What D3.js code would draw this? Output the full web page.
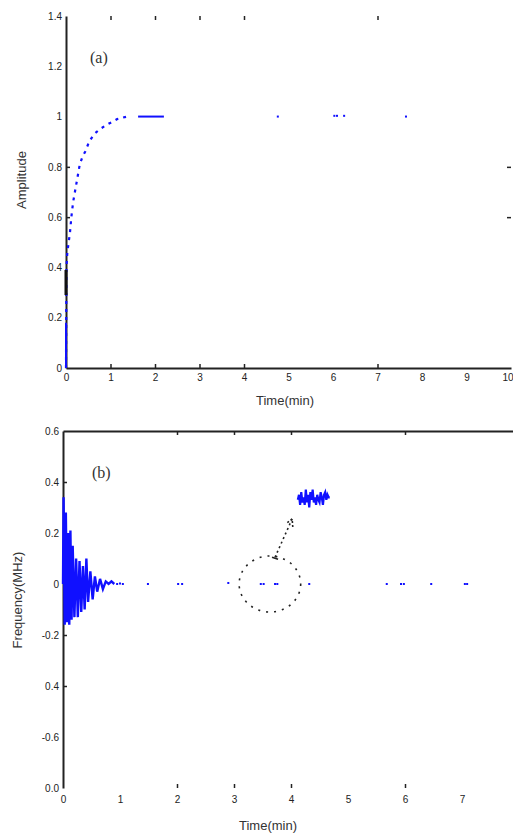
<!DOCTYPE html>
<html>
<head>
<meta charset="utf-8">
<script src="https://cdn.jsdelivr.net/npm/d3@7"></script>
<style>
  body { margin: 0; background: #fff; }
  svg { display: block; }
  .tick text { font-family: "Liberation Sans", Arial, sans-serif; font-size: 10px; fill: #222; }
  .lbl { font-family: "Liberation Sans", Arial, sans-serif; font-size: 13px; fill: #333; }
  .tag { font-family: "Liberation Serif", "DejaVu Serif", serif; font-size: 16px; fill: #333; }
</style>
</head>
<body>
<div id="viz"></div>
<script>
// (a) amplitude vs time
const ampTime  = [0, 0.01, 0.03, 0.06, 0.09, 0.12, 0.16, 0.2, 0.25, 0.31, 0.37, 0.43, 0.52, 0.63, 0.76, 0.85, 0.94, 1.05, 1.15, 1.26, 1.37, 1.45];
const ampValue = [0, 0.40, 0.46, 0.50, 0.54, 0.60, 0.66, 0.70, 0.75, 0.81, 0.84, 0.86, 0.90, 0.93, 0.95, 0.96, 0.97, 0.98, 0.99, 0.995, 1.0, 1.0];
const ampFlatTime  = [1.62, 2.2];
const ampFlatValue = [1.0, 1.0];
const ampDotTime  = [4.76, 6.03, 6.09, 6.25, 7.64];
const ampDotValue = [1.0, 1.003, 1.003, 1.003, 1.0];
const ampXTicks = [0, 1, 2, 3, 4, 5, 6, 7, 8, 9, 10];
const ampXMarks = [1, 2, 3, 4, 7];
const ampYTicks = [0, 0.2, 0.4, 0.6, 0.8, 1, 1.2, 1.4];
const ampYLabels = ["0", "0.2", "0.4", "0.6", "0.8", "1", "1.2", "1.4"];
const ampYMarks = [0.6, 0.8];

// (b) frequency vs time
const freqTime  = [0, 0.01, 0.03, 0.05, 0.07, 0.09, 0.11, 0.13, 0.15, 0.17, 0.2, 0.23, 0.26, 0.29, 0.32, 0.35, 0.38, 0.41, 0.44, 0.48, 0.52, 0.56, 0.6, 0.65, 0.7, 0.75, 0.8, 0.85, 0.9];
const freqValue = [0, 0.34, -0.16, 0.28, -0.15, 0.20, -0.16, 0.21, -0.14, 0.15, -0.13, 0.10, -0.13, 0.09, -0.11, 0.07, -0.10, 0.10, -0.07, 0.05, -0.06, 0.03, -0.03, 0.02, -0.02, 0.01, 0, 0.01, 0];
const freqDotTime  = [0.95, 1.0, 1.05, 1.49, 2.02, 2.09, 2.9, 3.47, 3.52, 3.72, 3.76, 4.32, 5.68, 5.93, 5.98, 6.46, 7.05, 7.09];
const freqDotValue = [0, 0.002, 0, 0, 0, 0, 0.004, 0, 0, 0, 0, 0, 0, 0, 0, 0, 0, 0];
const insetTime  = [4.12, 4.14, 4.16, 4.18, 4.20, 4.22, 4.24, 4.26, 4.28, 4.30, 4.32, 4.34, 4.36, 4.38, 4.40, 4.42, 4.44, 4.46, 4.48, 4.50, 4.52, 4.54, 4.56, 4.58, 4.60, 4.62, 4.64, 4.66, 4.68];
const insetValue = [0.33, 0.35, 0.31, 0.36, 0.32, 0.34, 0.31, 0.37, 0.32, 0.35, 0.30, 0.36, 0.33, 0.37, 0.32, 0.34, 0.31, 0.35, 0.33, 0.32, 0.36, 0.34, 0.31, 0.35, 0.36, 0.33, 0.35, 0.34, 0.34];
const circleCenter = [3.63, 0];
const circleRadius = [0.54, 0.11];
const arrowFrom = [3.72, 0.105];
const arrowTo   = [4.02, 0.255];
const freqXTicks = [0, 1, 2, 3, 4, 5, 6, 7];
const freqXMarks = [2, 3, 4, 6];
const freqYTicks = [-0.8, -0.6, -0.4, -0.2, 0, 0.2, 0.4, 0.6];
const freqYLabels = ["0.0", "-0.6", "0.4", "-0.2", "0", "0.2", "0.4", "0.6"];
const freqYMarks = [-0.4, -0.2, 0.4];

const W = 513, H = 835;
const blue = "#1010ff", ink = "#222";

const svg = d3.select("#viz").append("svg")
    .attr("width", W).attr("height", H);

// ---------- panel (a) ----------
const xA = d3.scaleLinear([0, 10], [66, 511]);
const yA = d3.scaleLinear([0, 1.4], [368, 16]);
const gA = svg.append("g");

// labels only
gA.append("g").attr("transform", `translate(0,${yA(0)})`)
    .call(d3.axisBottom(xA).tickValues(ampXTicks).tickSize(0).tickPadding(6).tickFormat(d3.format("d")))
    .call(g => g.select(".domain").attr("stroke", ink).attr("stroke-width", 2))
    .call(g => g.selectAll(".tick text").filter(d => d === 10).attr("text-anchor", "end").attr("dx", 2));
gA.append("g").attr("transform", `translate(${xA(0)},0)`)
    .call(d3.axisLeft(yA).tickValues(ampYTicks).tickSize(0).tickPadding(4).tickFormat((d, i) => ampYLabels[i]))
    .call(g => g.select(".domain").attr("stroke", ink).attr("stroke-width", 2));

// inward tick marks
const marks = (g, axis, vals) => g.call(axis.tickValues(vals).tickSizeInner(-4).tickSizeOuter(0).tickFormat(""))
    .call(g => g.select(".domain").remove())
    .call(g => g.selectAll("line").attr("stroke", ink).attr("stroke-width", 1.5));
gA.append("g").attr("transform", `translate(0,${yA(0)})`).call(g => marks(g, d3.axisBottom(xA), ampXMarks));
gA.append("g").attr("transform", `translate(0,${yA(1.4)})`).call(g => marks(g, d3.axisTop(xA), ampXMarks));
gA.append("g").attr("transform", `translate(${xA(0)},0)`).call(g => marks(g, d3.axisLeft(yA), ampYMarks));
gA.append("g").attr("transform", `translate(${xA(10)},0)`).call(g => marks(g, d3.axisRight(yA), ampYMarks));

const lineA = d3.line().x(i => xA(i[0])).y(i => yA(i[1]));
gA.append("path")
    .attr("d", lineA(ampTime.map((t, i) => [t, ampValue[i]])))
    .attr("fill", "none").attr("stroke", blue).attr("stroke-width", 2.2)
    .attr("stroke-dasharray", "3,5");
gA.append("path")
    .attr("d", lineA(ampFlatTime.map((t, i) => [t, ampFlatValue[i]])))
    .attr("fill", "none").attr("stroke", blue).attr("stroke-width", 2);
gA.append("path")
    .attr("d", lineA([[0, 0], [0, 0.18]]))
    .attr("stroke", blue).attr("stroke-width", 2);
gA.append("path")
    .attr("d", lineA([[0, 0.29], [0, 0.39]]))
    .attr("stroke", "#111").attr("stroke-width", 3);
gA.selectAll(".adot").data(ampDotTime).join("rect")
    .attr("x", d => xA(d) - 1).attr("y", (d, i) => yA(ampDotValue[i]) - 1)
    .attr("width", 2).attr("height", 2).attr("fill", blue);

gA.append("text").attr("class", "tag").attr("x", 90).attr("y", 63).text("(a)");
gA.append("text").attr("class", "lbl").attr("text-anchor", "middle")
    .attr("x", 285).attr("y", 405).text("Time(min)");
gA.append("text").attr("class", "lbl").attr("text-anchor", "middle")
    .attr("transform", "translate(26,180) rotate(-90)").text("Amplitude");

// ---------- panel (b) ----------
const xB = d3.scaleLinear([0, 8], [63, 519]);
const yB = d3.scaleLinear([-0.8, 0.6], [788, 431]);
const gB = svg.append("g");

gB.append("g").attr("transform", `translate(0,${yB(-0.8)})`)
    .call(d3.axisBottom(xB).tickValues(freqXTicks).tickSize(0).tickPadding(8).tickFormat(d3.format("d")))
    .call(g => g.select(".domain").remove());
gB.append("g").attr("transform", `translate(${xB(0)},0)`)
    .call(d3.axisLeft(yB).tickValues(freqYTicks).tickSize(0).tickPadding(4).tickFormat((d, i) => freqYLabels[i]))
    .call(g => g.select(".domain").attr("stroke", ink).attr("stroke-width", 2));
gB.append("g").attr("transform", `translate(0,${yB(0.6)})`)
    .call(d3.axisTop(xB).tickValues([]).tickSize(0))
    .call(g => g.select(".domain").attr("stroke", ink).attr("stroke-width", 2));

gB.append("g").attr("transform", `translate(0,${yB(-0.8)})`).call(g => marks(g, d3.axisBottom(xB), freqXMarks));
gB.append("g").attr("transform", `translate(0,${yB(0.6)})`).call(g => marks(g, d3.axisTop(xB), freqXMarks));
gB.append("g").attr("transform", `translate(${xB(0)},0)`).call(g => marks(g, d3.axisLeft(yB), freqYMarks));

const lineB = d3.line().x(i => xB(i[0])).y(i => yB(i[1]));
gB.append("path")
    .attr("d", lineB(freqTime.map((t, i) => [t, freqValue[i]])))
    .attr("fill", "none").attr("stroke", blue).attr("stroke-width", 2.4);
gB.append("path")
    .attr("d", lineB(insetTime.map((t, i) => [t, insetValue[i]])))
    .attr("fill", "none").attr("stroke", blue).attr("stroke-width", 2.2);
gB.selectAll(".fdot").data(freqDotTime).join("rect")
    .attr("x", d => xB(d) - 1).attr("y", (d, i) => yB(freqDotValue[i]) - 1)
    .attr("width", 2).attr("height", 2).attr("fill", blue);

// dotted circle and arrow
gB.append("ellipse")
    .attr("cx", xB(circleCenter[0])).attr("cy", yB(circleCenter[1]))
    .attr("rx", xB(circleRadius[0]) - xB(0)).attr("ry", yB(0) - yB(circleRadius[1]))
    .attr("fill", "none").attr("stroke", ink).attr("stroke-width", 1.6)
    .attr("stroke-dasharray", "2,6");
const ax1 = xB(arrowFrom[0]), ay1 = yB(arrowFrom[1]), ax2 = xB(arrowTo[0]), ay2 = yB(arrowTo[1]);
gB.append("line")
    .attr("x1", ax1).attr("y1", ay1).attr("x2", ax2).attr("y2", ay2)
    .attr("stroke", ink).attr("stroke-width", 1.6).attr("stroke-dasharray", "2,3");
const ang = Math.atan2(ay2 - ay1, ax2 - ax1);
const head = [-0.5, 0.5].map(o => [ax2 - 8 * Math.cos(ang + o), ay2 - 8 * Math.sin(ang + o)]);
gB.append("path")
    .attr("d", `M${head[0]}L${ax2},${ay2}L${head[1]}`)
    .attr("fill", "none").attr("stroke", ink).attr("stroke-width", 1.6).attr("stroke-dasharray", "2,2");
gB.append("line")
    .attr("x1", ax1 - 3).attr("y1", ay1).attr("x2", ax1 + 3).attr("y2", ay1 + 2)
    .attr("stroke", ink).attr("stroke-width", 1.6);

gB.append("text").attr("class", "tag").attr("x", 92).attr("y", 478).text("(b)");
gB.append("text").attr("class", "lbl").attr("text-anchor", "middle")
    .attr("x", 268).attr("y", 830).text("Time(min)");
gB.append("text").attr("class", "lbl").attr("text-anchor", "middle")
    .attr("transform", "translate(22,600) rotate(-90)").text("Frequency(MHz)");
</script>
</body>
</html>
